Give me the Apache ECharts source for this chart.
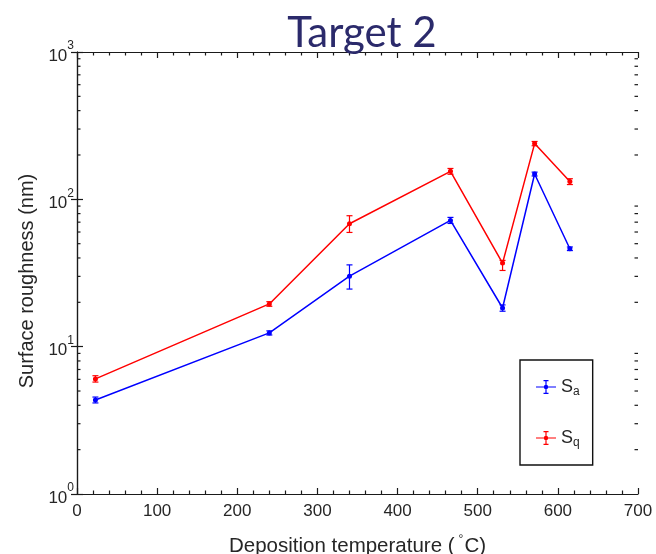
<!DOCTYPE html>
<html>
<head>
<meta charset="utf-8">
<script src="https://cdn.jsdelivr.net/npm/echarts@6/dist/echarts.min.js"></script>
<style>
  html, body { margin: 0; padding: 0; background: #fff; }
  #chart { width: 656px; height: 554px; }
</style>
</head>
<body>
<div id="chart"></div>
<script>
// Deposition temperature (°C)
const temps = [23, 240, 340, 466, 531, 571, 615];

// Sa: arithmetic mean roughness (nm) with error-bar limits
const saValues = [4.35, 12.4, 30.1, 71.9, 18.3, 148.6, 46.2];
const saLower  = [4.15, 12.0, 24.6, 68.6, 17.4, 144.0, 44.9];
const saUpper  = [4.55, 12.8, 35.9, 75.4, 19.2, 153.0, 47.5];

// Sq: root-mean-square roughness (nm) with error-bar limits
const sqValues = [6.04, 19.5, 68.3, 155.0, 36.9, 239.0, 132.0];
const sqLower  = [5.75, 18.8, 59.6, 148.0, 32.9, 231.0, 126.0];
const sqUpper  = [6.35, 20.2, 77.4, 162.0, 38.5, 247.0, 138.0];

// Axis ranges and ticks
const xTicks = [0, 100, 200, 300, 400, 500, 600, 700];
const yDecades = [1, 10, 100, 1000];
const minorFactors = [2, 3, 4, 5, 6, 7, 8, 9];

const xMin = xTicks[0], xMax = xTicks[xTicks.length - 1];
const minorY = [];
yDecades.slice(0, -1).forEach(d => minorFactors.forEach(f => minorY.push(d * f)));

const FONT = 'Liberation Sans, Arial, sans-serif';
const AXIS_COLOR = '#1a1a1a';
const TEXT_COLOR = '#262626';

const chart = echarts.init(document.getElementById('chart'), null, { renderer: 'canvas' });

function errorBars(lower, upper) {
  return temps.map((t, i) => [t, lower[i], upper[i]]);
}

function renderErrorBar(params, api) {
  const x = api.value(0);
  const lo = api.coord([x, api.value(1)]);
  const hi = api.coord([x, api.value(2)]);
  const color = api.visual('color');
  const cap = 3;
  const style = { stroke: color, lineWidth: 1.2 };
  return {
    type: 'group',
    children: [
      { type: 'line', shape: { x1: lo[0], y1: lo[1], x2: hi[0], y2: hi[1] }, style },
      { type: 'line', shape: { x1: lo[0] - cap, y1: lo[1], x2: lo[0] + cap, y2: lo[1] }, style },
      { type: 'line', shape: { x1: hi[0] - cap, y1: hi[1], x2: hi[0] + cap, y2: hi[1] }, style }
    ]
  };
}

// Log-scale minor ticks at 2..9, drawn inward from the left (dir 1) or right (dir -1) frame edge
function minorTickRenderer(edgeValue, dir) {
  return function (params, api) {
    const p = api.coord([edgeValue, api.value(1)]);
    return {
      type: 'line',
      shape: { x1: p[0], y1: p[1], x2: p[0] + dir * 3.5, y2: p[1] },
      style: { stroke: AXIS_COLOR, lineWidth: 1.2 }
    };
  };
}

const legendIcon = 'path://M0,6.4H20V7.6H0Z M9.4,0H10.6V14H9.4Z M7.5,0H12.5V1.2H7.5Z M7.5,12.8H12.5V14H7.5Z M12.2,7A2.2,2.2 0 1 1 7.8,7A2.2,2.2 0 1 1 12.2,7Z';

const supLabel = v => '{b|10}{sup|' + Math.round(Math.log10(v)) + '}';

const baseX = {
  type: 'value', min: xMin, max: xMax, interval: 100,
  axisLine: { show: true, onZero: false, lineStyle: { color: AXIS_COLOR, width: 1.2 } },
  axisTick: { inside: true, length: 6, lineStyle: { color: AXIS_COLOR, width: 1.2 } },
  minorTick: { show: true, splitNumber: 5, length: 3.5, lineStyle: { color: AXIS_COLOR, width: 1.2 } },
  splitLine: { show: false }
};
const baseY = {
  type: 'log', logBase: 10, min: 1, max: 1000,
  axisLine: { show: true, lineStyle: { color: AXIS_COLOR, width: 1.2 } },
  axisTick: { inside: true, length: 6, lineStyle: { color: AXIS_COLOR, width: 1.2 } },
  splitLine: { show: false }
};

const option = {
  backgroundColor: '#ffffff',
  animation: false,
  grid: { left: 77, right: 18, top: 52, bottom: 60, containLabel: false, outerBoundsMode: 'none' },
  graphic: [{
    type: 'text', z: 100,
    x: 362, y: 33,
    style: {
      text: 'Target 2', x: 0, y: 0,
      font: '42px Lato, "Open Sans", sans-serif',
      fill: '#2b2a6b', textAlign: 'center', textVerticalAlign: 'middle'
    }
  }],
  xAxis: [
    Object.assign({}, baseX, {
      position: 'bottom',
      axisLabel: { margin: 9, color: TEXT_COLOR, fontFamily: FONT, fontSize: 17 },
      name: '{t|Deposition temperature (}{deg|°}{t|C)}',
      nameLocation: 'middle', nameGap: 40,
      nameTextStyle: {
        rich: {
          t: { fontFamily: FONT, fontSize: 20.5, color: TEXT_COLOR, lineHeight: 24 },
          deg: { fontFamily: FONT, fontSize: 12, color: TEXT_COLOR, lineHeight: 12, verticalAlign: 'top', padding: [0, 1, 0, 4] }
        }
      }
    }),
    Object.assign({}, baseX, { position: 'top', axisLabel: { show: false } })
  ],
  yAxis: [
    Object.assign({}, baseY, {
      position: 'left',
      axisLabel: {
        margin: 3, formatter: supLabel,
        rich: {
          b: { fontFamily: FONT, fontSize: 17, color: TEXT_COLOR, lineHeight: 16, padding: [8, 0, 0, 0] },
          sup: { fontFamily: FONT, fontSize: 12, color: TEXT_COLOR, lineHeight: 12, padding: [0, 0, 12, 0] }
        }
      },
      name: 'Surface roughness (nm)',
      nameLocation: 'middle', nameGap: 36, nameRotate: 90,
      nameTextStyle: { fontFamily: FONT, fontSize: 20, color: TEXT_COLOR, padding: [0, 16, 0, 0] }
    }),
    Object.assign({}, baseY, { position: 'right', axisLabel: { show: false } })
  ],
  legend: {
    orient: 'vertical', left: 520, top: 360,
    data: ['Sa', 'Sq'],
    icon: legendIcon, itemWidth: 20, itemHeight: 14, itemGap: 29,
    padding: [16, 13, 16, 16],
    borderColor: '#111', borderWidth: 1.4,
    selectedMode: false,
    formatter: name => '{s|S}{sub|' + name.slice(1) + '}',
    textStyle: {
      rich: {
        s: { fontFamily: FONT, fontSize: 18, color: TEXT_COLOR, lineHeight: 22 },
        sub: { fontFamily: FONT, fontSize: 12, color: TEXT_COLOR, lineHeight: 22, padding: [10, 0, 0, 0] }
      }
    }
  },
  series: [
    {
      name: 'Sa', type: 'line', xAxisIndex: 0, yAxisIndex: 0,
      data: temps.map((t, i) => [t, saValues[i]]),
      color: '#0000ff', symbol: 'circle', symbolSize: 5, showSymbol: true,
      lineStyle: { width: 1.5 }, z: 3
    },
    {
      name: 'Sa error', type: 'custom', xAxisIndex: 0, yAxisIndex: 0,
      data: errorBars(saLower, saUpper), color: '#0000ff',
      renderItem: renderErrorBar, encode: { x: 0, y: [1, 2] }, z: 4
    },
    {
      name: 'Sq', type: 'line', xAxisIndex: 0, yAxisIndex: 0,
      data: temps.map((t, i) => [t, sqValues[i]]),
      color: '#ff0000', symbol: 'circle', symbolSize: 5, showSymbol: true,
      lineStyle: { width: 1.5 }, z: 3
    },
    {
      name: 'Sq error', type: 'custom', xAxisIndex: 0, yAxisIndex: 0,
      data: errorBars(sqLower, sqUpper), color: '#ff0000',
      renderItem: renderErrorBar, encode: { x: 0, y: [1, 2] }, z: 4
    },
    {
      name: 'left minor ticks', type: 'custom', xAxisIndex: 0, yAxisIndex: 0,
      data: minorY.map(v => [xMin, v]), renderItem: minorTickRenderer(xMin, 1),
      encode: { x: 0, y: 1 }, silent: true, clip: false, z: 5
    },
    {
      name: 'right minor ticks', type: 'custom', xAxisIndex: 0, yAxisIndex: 0,
      data: minorY.map(v => [xMax, v]), renderItem: minorTickRenderer(xMax, -1),
      encode: { x: 0, y: 1 }, silent: true, clip: false, z: 5
    }
  ]
};

chart.setOption(option);
</script>
</body>
</html>
